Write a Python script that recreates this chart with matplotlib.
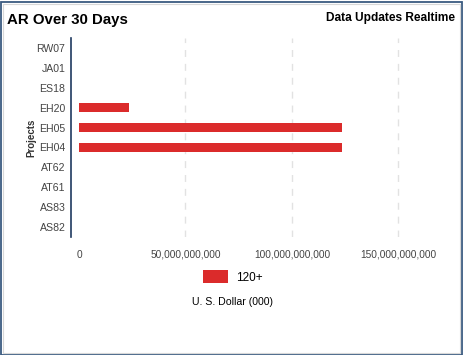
import numpy as np
import matplotlib.pyplot as plt
from matplotlib.patches import Rectangle
from matplotlib.ticker import FuncFormatter

plt.rcParams['font.family'] = ['Liberation Sans', 'DejaVu Sans']

projects = ['AS82', 'AS83', 'AT61', 'AT62', 'EH04', 'EH05', 'EH20', 'ES18', 'JA01', 'RW07']
ar_120 = [0, 0, 0, 0, 123.3e9, 123.3e9, 23.3e9, 0, 0, 0]
xticks = [0, 50e9, 100e9, 150e9]

fig = plt.figure(figsize=(4.64, 3.55), dpi=100)
ax = fig.add_axes([71/464, 118/355, (440-71)/464, 199/355])

y = np.arange(len(projects))
ax.barh(y, ar_120, height=0.45, color='#db2b2b', linewidth=0, label='120+', zorder=3)

ax.set_ylim(-0.5, len(projects) - 0.5)
ax.set_xlim(-3.76e9, 169.5e9)
ax.set_yticks(y)
ax.set_yticklabels(projects, fontsize=7.6, color='#444444')
ax.set_xticks(xticks)
ax.xaxis.set_major_formatter(FuncFormatter(lambda v, p: f'{int(v):,}'))
ax.tick_params(axis='x', labelsize=7.3, labelcolor='#444444', length=0, pad=9)
ax.tick_params(axis='y', length=0, pad=4)

for v in xticks[1:]:
    ax.axvline(v, color='#e2e2e2', linestyle=(0, (5, 5)), linewidth=1, zorder=1)

for s in ['top', 'right', 'bottom']:
    ax.spines[s].set_visible(False)
ax.spines['left'].set_color('#1f3a60')
ax.spines['left'].set_linewidth(1.2)

ax.set_ylabel('Projects', fontsize=7, fontweight='bold', color='#333333', labelpad=0)

fig.text(7/464, 1 - 20/355, 'AR Over 30 Days', fontsize=10.8, fontweight='bold',
         va='center', ha='left')
fig.text(455/464, 1 - 18/355, 'Data Updates Realtime', fontsize=8.6, fontweight='bold',
         va='center', ha='right')

leg = ax.legend(loc='center', bbox_to_anchor=(233/464, 1 - 277/355),
                bbox_transform=fig.transFigure, frameon=False, fontsize=8.5,
                handlelength=2.1, handleheight=1.2, handletextpad=0.7)

fig.text(233/464, 1 - 302/355, 'U. S. Dollar (000)', fontsize=7.6, ha='center', va='center')

# border around the panel
fig.patches.append(Rectangle((0.5/464, 0.5/355), 1 - 2/464, 1 - 2/355, transform=fig.transFigure,
                             fill=False, edgecolor='#3a5a80', linewidth=1.3))
fig.patches.append(Rectangle((2.5/464, 2.5/355), 1 - 6/464, 1 - 6/355, transform=fig.transFigure,
                             fill=False, edgecolor='#d8d8d8', linewidth=0.8))

fig.savefig('out.png', dpi=100)
